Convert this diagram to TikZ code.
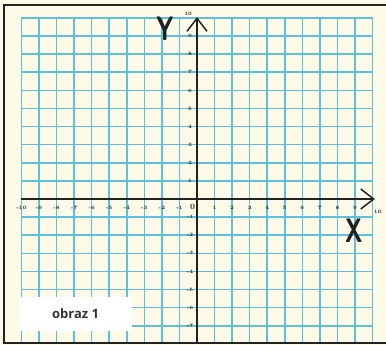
\documentclass[tikz,border=0pt]{standalone}
\usepackage{fontspec}
\newfontfamily\captionfont{Open Sans}
\usepackage{xcolor}
\usetikzlibrary{arrows.meta,positioning}
\definecolor{paper}{HTML}{FDFBE8}
\definecolor{gridblue}{HTML}{5CC2DB}
\definecolor{inkgray}{HTML}{222222}

\begin{document}
\begin{tikzpicture}[
  x=17.55pt, y=18.1pt,
  gridline/.style={draw=gridblue, line width=1.6pt},
  axis/.style={draw=inkgray, line width=1.5pt, -{Straight Barb[length=13pt,width=20pt]}},
  ticklabel/.style={font=\fontsize{5}{5}\selectfont\bfseries, text=inkgray, inner sep=0pt},
  axislabel/.style={font=\sffamily\bfseries\fontsize{34}{34}\selectfont, text=inkgray,
    xscale=0.7, transform shape, inner sep=0pt},
  captionbox/.style={fill=white, minimum width=113pt, minimum height=34pt, inner sep=0pt,
    font=\captionfont\bfseries\fontsize{13}{13}\selectfont, text=black!80}
]
  \fill[paper] (-11.225,-8.066) rectangle (10.769,10.994);
  \useasboundingbox (-11.225,-8.066) rectangle (10.769,10.994);

  \foreach \i in {-10,...,10}
    \draw[gridline] (\i,-7.96) -- (\i,10);
  \foreach \j in {-7,...,10}
    \draw[gridline] (-10,\j) -- (10,\j);

  \draw[inkgray, line width=1.5pt] (10.769,10.72) -- (-11,10.72) -- (-11,-7.96) -- (10.769,-7.96);

  \coordinate (xstart) at (-10,0);
  \coordinate (xend) at (10.14,0);
  \coordinate (ystart) at (0,-7.96);
  \coordinate (yend) at (0,10.05);
  \draw[axis] (xstart) -- (xend);
  \draw[axis] (ystart) -- (yend);

  \foreach \i in {-10,...,-1,1,2,...,9}
    \node[ticklabel] (xl\i) at (\i,-0.5) {\i};
  \node[ticklabel] (xl10) at (10.3,-0.7) {10};
  \foreach \j in {-7,...,-1,1,2,...,9}
    \node[ticklabel] (yl\j) at (-0.4,\j) {\j};
  \node[ticklabel] (yl10) at (-0.5,10.25) {10};
  \node[ticklabel, font=\bfseries\fontsize{8}{8}\selectfont] (origin) at (-0.25,-0.45) {0};

  \node[axislabel] (ylabel) at (-1.82,9.39) {Y};
  \node[axislabel] (xlabel) at (8.95,-1.77) {X};

  \node[captionbox] (caption) at (-6.92,-6.35) {obraz 1};
\end{tikzpicture}
\end{document}
